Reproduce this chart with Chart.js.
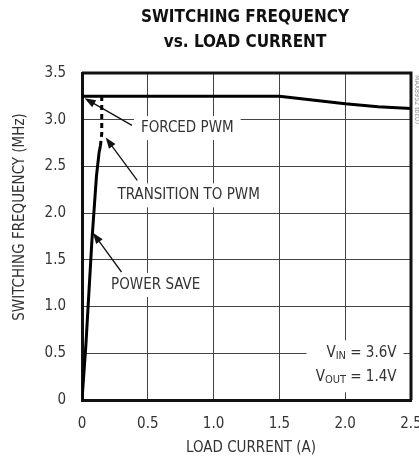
<!DOCTYPE html>
<html lang="en">
  <head>
    <meta charset="utf-8" />
    <title>Switching Frequency vs. Load Current</title>
    <script src="https://cdn.jsdelivr.net/npm/chart.js"></script>
    <style>
      body {
        margin: 0;
        background: #ffffff;
      }
      #chart {
        display: block;
      }
    </style>
  </head>
  <body>
    <canvas id="chart" width="419" height="459"></canvas>
    <script>
      // data
      const forcedX = [0, 0.5, 1.0, 1.5, 1.75, 2.0, 2.25, 2.5];
      const forcedY = [3.25, 3.25, 3.25, 3.25, 3.21, 3.17, 3.14, 3.12];
      const powerSaveX = [0, 0.03, 0.075, 0.11, 0.13, 0.14];
      const powerSaveY = [0, 0.6, 1.7, 2.4, 2.65, 2.72];
      const transitionX = [0.14, 0.15, 0.15];
      const transitionY = [2.72, 2.85, 3.25];

      const xTicks = [0, 0.5, 1.0, 1.5, 2.0, 2.5];
      const yTicks = [0, 0.5, 1.0, 1.5, 2.0, 2.5, 3.0, 3.5];

      // annotation texts and arrows (data units)
      const labelTexts = ["FORCED PWM", "TRANSITION TO PWM", "POWER SAVE"];
      const labelX = [0.8, 0.81, 0.56];
      const labelY = [2.91, 2.19, 1.23];
      const arrowFrom = [[0.38, 2.94], [0.42, 2.35], [0.3, 1.37]];
      const arrowTo = [[0.02, 3.23], [0.18, 2.81], [0.083, 1.79]];

      const FONT = '"Liberation Sans Narrow", "DejaVu Sans Condensed", sans-serif';

      function toPoints(xs, ys) {
        return xs.map((x, i) => ({ x: x, y: ys[i] }));
      }

      function tickText(v) {
        return v === 0 ? "0" : v.toFixed(1);
      }

      function arrow(ctx, x1, y1, x2, y2) {
        const ang = Math.atan2(y2 - y1, x2 - x1);
        const len = 11;
        const half = 4;
        ctx.beginPath();
        ctx.moveTo(x1, y1);
        ctx.lineTo(x2 - Math.cos(ang) * len * 0.8, y2 - Math.sin(ang) * len * 0.8);
        ctx.lineWidth = 1.3;
        ctx.strokeStyle = "#111";
        ctx.stroke();
        ctx.beginPath();
        ctx.moveTo(x2, y2);
        ctx.lineTo(
          x2 - Math.cos(ang) * len + Math.sin(ang) * half,
          y2 - Math.sin(ang) * len - Math.cos(ang) * half
        );
        ctx.lineTo(
          x2 - Math.cos(ang) * len - Math.sin(ang) * half,
          y2 - Math.sin(ang) * len + Math.cos(ang) * half
        );
        ctx.closePath();
        ctx.fillStyle = "#111";
        ctx.fill();
      }

      function boxedText(ctx, text, cx, cy) {
        ctx.font = "15px " + FONT;
        const w = ctx.measureText(text).width;
        const left = cx - w / 2;
        ctx.fillStyle = "#ffffff";
        ctx.fillRect(left - 7, cy - 12, w + 14, 24);
        ctx.fillStyle = "#333";
        ctx.textAlign = "left";
        ctx.textBaseline = "middle";
        ctx.fillText(text, left, cy);
      }

      const annotations = {
        id: "annotations",
        beforeDatasetsDraw(chart) {
          const ctx = chart.ctx;
          const xs = chart.scales.x;
          const ys = chart.scales.y;
          ctx.save();
          labelTexts.forEach((t, i) => {
            boxedText(ctx, t, xs.getPixelForValue(labelX[i]), ys.getPixelForValue(labelY[i]));
          });
          // VIN / VOUT block
          const rx = xs.getPixelForValue(2.39);
          const y1 = ys.getPixelForValue(0.5);
          const y2 = ys.getPixelForValue(0.25);
          ctx.fillStyle = "#ffffff";
          ctx.fillRect(rx - 90, y1 - 13, 97, 52);
          ctx.fillStyle = "#333";
          ctx.textBaseline = "middle";
          ctx.textAlign = "right";
          ctx.font = "15px " + FONT;
          const v1 = " = 3.6V";
          const v2 = " = 1.4V";
          const w1 = ctx.measureText(v1).width;
          const w2 = ctx.measureText(v2).width;
          ctx.fillText(v1, rx, y1);
          ctx.fillText(v2, rx, y2);
          ctx.font = "11px " + FONT;
          const s1 = ctx.measureText("IN").width;
          const s2 = ctx.measureText("OUT").width;
          ctx.fillText("IN", rx - w1, y1 + 3);
          ctx.fillText("OUT", rx - w2, y2 + 3);
          ctx.font = "15px " + FONT;
          ctx.fillText("V", rx - w1 - s1, y1);
          ctx.fillText("V", rx - w2 - s2, y2);
          arrowFrom.forEach((f, i) => {
            arrow(
              ctx,
              xs.getPixelForValue(f[0]),
              ys.getPixelForValue(f[1]),
              xs.getPixelForValue(arrowTo[i][0]),
              ys.getPixelForValue(arrowTo[i][1])
            );
          });
          ctx.restore();
        },
        afterDraw(chart) {
          const ctx = chart.ctx;
          const a = chart.chartArea;
          ctx.save();
          // top and right frame
          ctx.strokeStyle = "#111";
          ctx.lineWidth = 3;
          ctx.beginPath();
          ctx.moveTo(a.left, a.top);
          ctx.lineTo(a.right, a.top);
          ctx.lineTo(a.right, a.bottom);
          ctx.stroke();
          // title
          ctx.fillStyle = "#111";
          ctx.textAlign = "center";
          ctx.textBaseline = "middle";
          ctx.font = "bold 17px " + FONT;
          ctx.fillText("SWITCHING FREQUENCY", 245, 18);
          ctx.fillText("vs. LOAD CURRENT", 245, 43);
          // axis titles
          ctx.fillStyle = "#333";
          ctx.font = "15px " + FONT;
          ctx.fillText("LOAD CURRENT (A)", 251, 448);
          ctx.save();
          ctx.translate(20, 217);
          ctx.rotate(-Math.PI / 2);
          ctx.fillText("SWITCHING FREQUENCY (MHz)", 0, 0);
          ctx.restore();
          // side tag
          ctx.save();
          ctx.translate(416.5, 100);
          ctx.rotate(Math.PI / 2);
          ctx.fillStyle = "#888";
          ctx.font = "7px " + FONT;
          ctx.fillText("MAX8952 toc07", 0, 0);
          ctx.restore();
          ctx.restore();
        },
      };

      new Chart(document.getElementById("chart"), {
        type: "line",
        data: {
          datasets: [
            {
              data: toPoints(forcedX, forcedY),
              borderColor: "#000",
              borderWidth: 3,
            },
            {
              data: toPoints(powerSaveX, powerSaveY),
              borderColor: "#000",
              borderWidth: 3,
            },
            {
              data: toPoints(transitionX, transitionY),
              borderColor: "#000",
              borderWidth: 3,
              borderDash: [5, 4],
            },
          ],
        },
        options: {
          responsive: false,
          animation: false,
          layout: { padding: { top: 73, right: 8, left: 0, bottom: 0 } },
          elements: { point: { radius: 0 }, line: { tension: 0 } },
          plugins: { legend: { display: false }, tooltip: { enabled: false } },
          scales: {
            x: {
              type: "linear",
              min: 0,
              max: 2.5,
              afterBuildTicks(scale) {
                scale.ticks = xTicks.map((v) => ({ value: v }));
              },
              afterFit(scale) {
                scale.height = 59;
                scale.paddingLeft = 0;
                scale.paddingRight = 0;
              },
              ticks: {
                callback: tickText,
                padding: 15,
                color: "#333",
                font: { family: FONT, size: 15 },
                maxRotation: 0,
              },
              grid: { color: "#444", lineWidth: 1, drawTicks: false },
              border: { color: "#111", width: 3 },
            },
            y: {
              min: 0,
              max: 3.5,
              afterBuildTicks(scale) {
                scale.ticks = yTicks.map((v) => ({ value: v }));
              },
              afterFit(scale) {
                scale.width = 82;
                scale.paddingTop = 0;
                scale.paddingBottom = 0;
              },
              ticks: {
                callback: tickText,
                padding: 16,
                color: "#333",
                font: { family: FONT, size: 15 },
              },
              grid: { color: "#444", lineWidth: 1, drawTicks: false },
              border: { color: "#111", width: 3 },
            },
          },
        },
        plugins: [annotations],
      });
    </script>
  </body>
</html>
